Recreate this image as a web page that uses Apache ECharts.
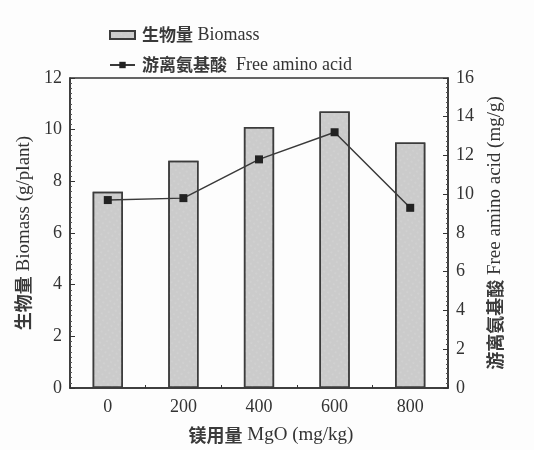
<!DOCTYPE html>
<html>
<head>
<meta charset="utf-8">
<script src="https://cdn.jsdelivr.net/npm/echarts@6/dist/echarts.min.js"></script>
<style>
  html, body { margin: 0; padding: 0; background: #fdfdfd; }
  #app { width: 534px; height: 450px; }
</style>
</head>
<body>
<div id="app"></div>
<script>
// MgO dose categories (mg/kg)
const doses = ["0", "200", "400", "600", "800"];
// biomass, g/plant (left axis)
const biomass = [7.6, 8.8, 10.1, 10.7, 9.5];
// free amino acid, mg/g (right axis)
const aminoAcid = [9.7, 9.8, 11.8, 13.2, 9.3];

const seriesNames = ["生物量 Biomass", "游离氨基酸  Free amino acid"];

const FONT = "'Liberation Serif', 'Noto Sans CJK SC', serif";
const CJK = "'Noto Sans CJK SC', sans-serif";
const INK = "#333";

// CJK part bold, latin part serif
function richText(size) {
  return {
    c: { fontFamily: CJK, fontWeight: "bold", fontSize: size - 1, color: "#3a3a3a" },
    l: { fontFamily: FONT, fontSize: size, color: INK }
  };
}
function splitLabel(s) {
  const i = s.indexOf(" ");
  return "{c|" + s.slice(0, i) + "}{l|" + s.slice(i) + "}";
}

function valueAxis(name, max, interval, minorSplit, gap) {
  return {
    type: "value",
    name: splitLabel(name),
    nameLocation: "middle",
    nameGap: gap,
    nameTextStyle: { rich: richText(19), padding: [0, 0, 0, 0] },
    min: 0,
    max: max,
    interval: interval,
    axisLine: { show: true, lineStyle: { color: INK, width: 1.5 } },
    axisTick: { show: true, inside: true, length: 5, lineStyle: { color: INK } },
    minorTick: { show: true, splitNumber: minorSplit, length: 2, lineStyle: { color: "#555" } },
    splitLine: { show: false },
    axisLabel: { fontFamily: FONT, fontSize: 18, color: INK, margin: 8 }
  };
}

const chart = echarts.init(document.getElementById("app"));
chart.setOption({
  backgroundColor: "#fdfdfd",
  animation: false,
  legend: {
    orient: "vertical",
    left: 104,
    top: 20,
    itemGap: 10,
    itemWidth: 25,
    itemHeight: 8,
    formatter: name => splitLabel(name),
    textStyle: { padding: [0, 0, 0, 2], lineHeight: 20, rich: richText(18) },
    data: [
      { name: seriesNames[0], icon: "rect" },
      { name: seriesNames[1] }
    ]
  },
  grid: {
    left: 70,
    right: 86,
    top: 78,
    bottom: 62,
    show: true,
    borderColor: INK,
    borderWidth: 1.5,
    backgroundColor: "transparent"
  },
  xAxis: {
    type: "category",
    data: doses,
    name: splitLabel("镁用量 MgO (mg/kg)"),
    nameLocation: "middle",
    nameGap: 38,
    nameTextStyle: { rich: richText(19), padding: [0, 0, 0, 24] },
    axisLine: { lineStyle: { color: INK, width: 1.5 } },
    axisTick: { show: true, inside: true, length: 3, lineStyle: { color: INK } },
    axisLabel: { fontFamily: FONT, fontSize: 18, color: INK, margin: 10 }
  },
  yAxis: [
    valueAxis("生物量 Biomass (g/plant)", 12, 2, 10, 34),
    valueAxis("游离氨基酸 Free amino acid (mg/g)", 16, 2, 8, 38)
  ],
  series: [
    {
      name: seriesNames[0],
      type: "bar",
      yAxisIndex: 0,
      data: biomass,
      barWidth: "40%",
      itemStyle: {
        color: "#cbcbcb",
        borderColor: "#3c3c3c",
        borderWidth: 1.5,
        decal: {
          symbol: "circle",
          symbolSize: 0.6,
          color: "rgba(245,245,245,0.5)",
          dashArrayX: [2, 3],
          dashArrayY: [2, 3],
          rotation: 0.6
        }
      }
    },
    {
      name: seriesNames[1],
      type: "line",
      yAxisIndex: 1,
      data: aminoAcid,
      symbol: "rect",
      symbolSize: 8,
      lineStyle: { color: "#3a3a3a", width: 1.5 },
      itemStyle: { color: "#222" }
    }
  ]
});
</script>
</body>
</html>
